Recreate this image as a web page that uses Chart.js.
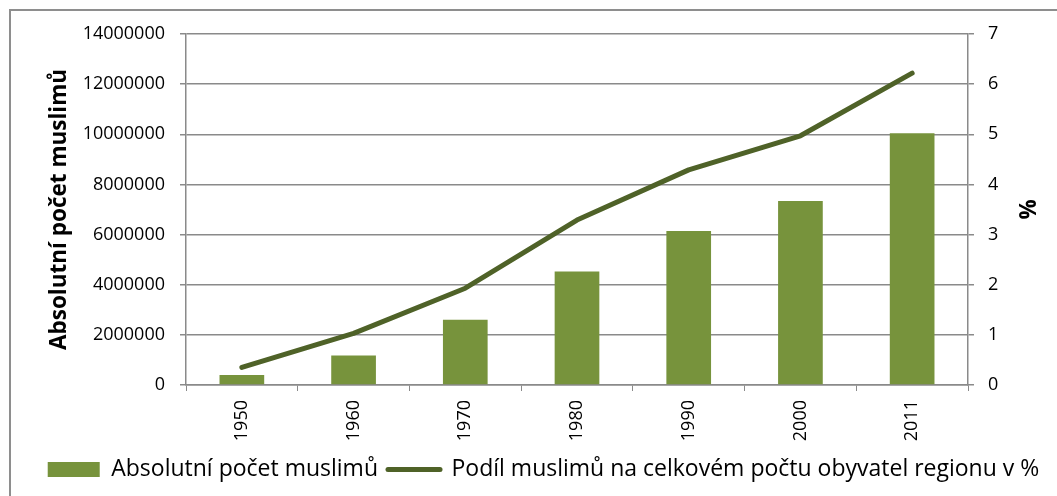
<!DOCTYPE html>
<html>
<head>
<meta charset="utf-8">
<script src="https://cdn.jsdelivr.net/npm/chart.js@4"></script>
<style>
  body { margin: 0; background: #fff; }
  #wrap { position: relative; width: 1057px; height: 496px; overflow: hidden; }
  #frame { position: absolute; left: 9px; top: 9px; right: -5px; bottom: -5px; border-left: 2px solid #8e8e8e; border-top: 2px solid #8e8e8e; }
  #chart { position: absolute; left: 0; top: 0; }
</style>
</head>
<body>
<div id="wrap">
  <div id="frame"></div>
  <canvas id="chart" width="1057" height="496"></canvas>
</div>
<script>
// Data
const years = ["1950", "1960", "1970", "1980", "1990", "2000", "2011"];
const muslimCount = [400000, 1180000, 2600000, 4530000, 6140000, 7340000, 10040000];
const muslimShare = [0.35, 1.03, 1.93, 3.29, 4.29, 4.97, 6.22];

const countLabel = "Absolutní počet muslimů";
const shareLabel = "Podíl muslimů na celkovém počtu obyvatel regionu v %";

const barColor = "#77933C";
const lineColor = "#4F6228";
const gridColor = "#8a8a8a";
const fontFamily = "'Open Sans', sans-serif";

const ctx = document.getElementById("chart").getContext("2d");

new Chart(ctx, {
  data: {
    labels: years,
    datasets: [
      {
        type: "bar",
        label: countLabel,
        data: muslimCount,
        backgroundColor: barColor,
        borderWidth: 0,
        barPercentage: 0.4,
        categoryPercentage: 1,
        yAxisID: "y",
        order: 2
      },
      {
        type: "line",
        label: shareLabel,
        data: muslimShare,
        borderColor: lineColor,
        backgroundColor: lineColor,
        borderWidth: 5,
        borderCapStyle: "round",
        borderJoinStyle: "round",
        pointRadius: 0,
        tension: 0,
        yAxisID: "y2",
        order: 1
      }
    ]
  },
  options: {
    responsive: false,
    animation: false,
    devicePixelRatio: 1,
    layout: { padding: { left: 30, right: 0, top: 34, bottom: 5 } },
    plugins: {
      tooltip: { enabled: false },
      legend: {
        position: "bottom",
        labels: {
          usePointStyle: true,
          pointStyleWidth: 52,
          boxHeight: 15,
          padding: 10,
          color: "#000",
          font: { family: fontFamily, size: 23 },
          generateLabels: (chart) => chart.data.datasets.map((ds, i) => ({
            text: ds.label,
            fillStyle: ds.type === "line" ? "rgba(0,0,0,0)" : ds.backgroundColor,
            strokeStyle: ds.type === "line" ? ds.borderColor : ds.backgroundColor,
            lineWidth: ds.type === "line" ? 5 : 0,
            lineCap: "round",
            pointStyle: ds.type === "line" ? "line" : "rect",
            fontColor: "#000",
            hidden: false,
            datasetIndex: i
          }))
        }
      }
    },
    scales: {
      x: {
        offset: true,
        grid: { drawOnChartArea: false, drawTicks: true, tickLength: 6, color: gridColor, offset: true },
        border: { color: gridColor, width: 1.5 },
        ticks: {
          autoSkip: false,
          minRotation: 90,
          maxRotation: 90,
          padding: 9,
          color: "#000",
          font: { family: fontFamily, size: 18 }
        },
        afterFit: (scale) => { scale.height = 63; }
      },
      y: {
        position: "left",
        min: 0,
        max: 14000000,
        ticks: {
          stepSize: 2000000,
          padding: 15,
          color: "#000",
          font: { family: fontFamily, size: 18 },
          callback: (v) => String(v)
        },
        grid: { color: gridColor, lineWidth: 1.5, tickLength: 6 },
        border: { color: gridColor, width: 1.5 },
        title: {
          display: true,
          text: countLabel,
          color: "#000",
          font: { family: fontFamily, size: 22.5, weight: "bold" },
          padding: { top: 16, bottom: 0 }
        },
        afterFit: (scale) => { scale.width = 156; }
      },
      y2: {
        position: "right",
        min: 0,
        max: 7,
        ticks: {
          stepSize: 1,
          padding: 14,
          color: "#000",
          font: { family: fontFamily, size: 18 }
        },
        grid: { drawOnChartArea: false, color: gridColor, lineWidth: 1.5, tickLength: 6 },
        border: { color: gridColor, width: 1.5 },
        title: {
          display: true,
          text: "%",
          color: "#000",
          font: { family: fontFamily, size: 22.5, weight: "bold" },
          padding: { top: 18, bottom: 0 }
        },
        afterFit: (scale) => { scale.width = 89; }
      }
    }
  }
});
</script>
</body>
</html>
